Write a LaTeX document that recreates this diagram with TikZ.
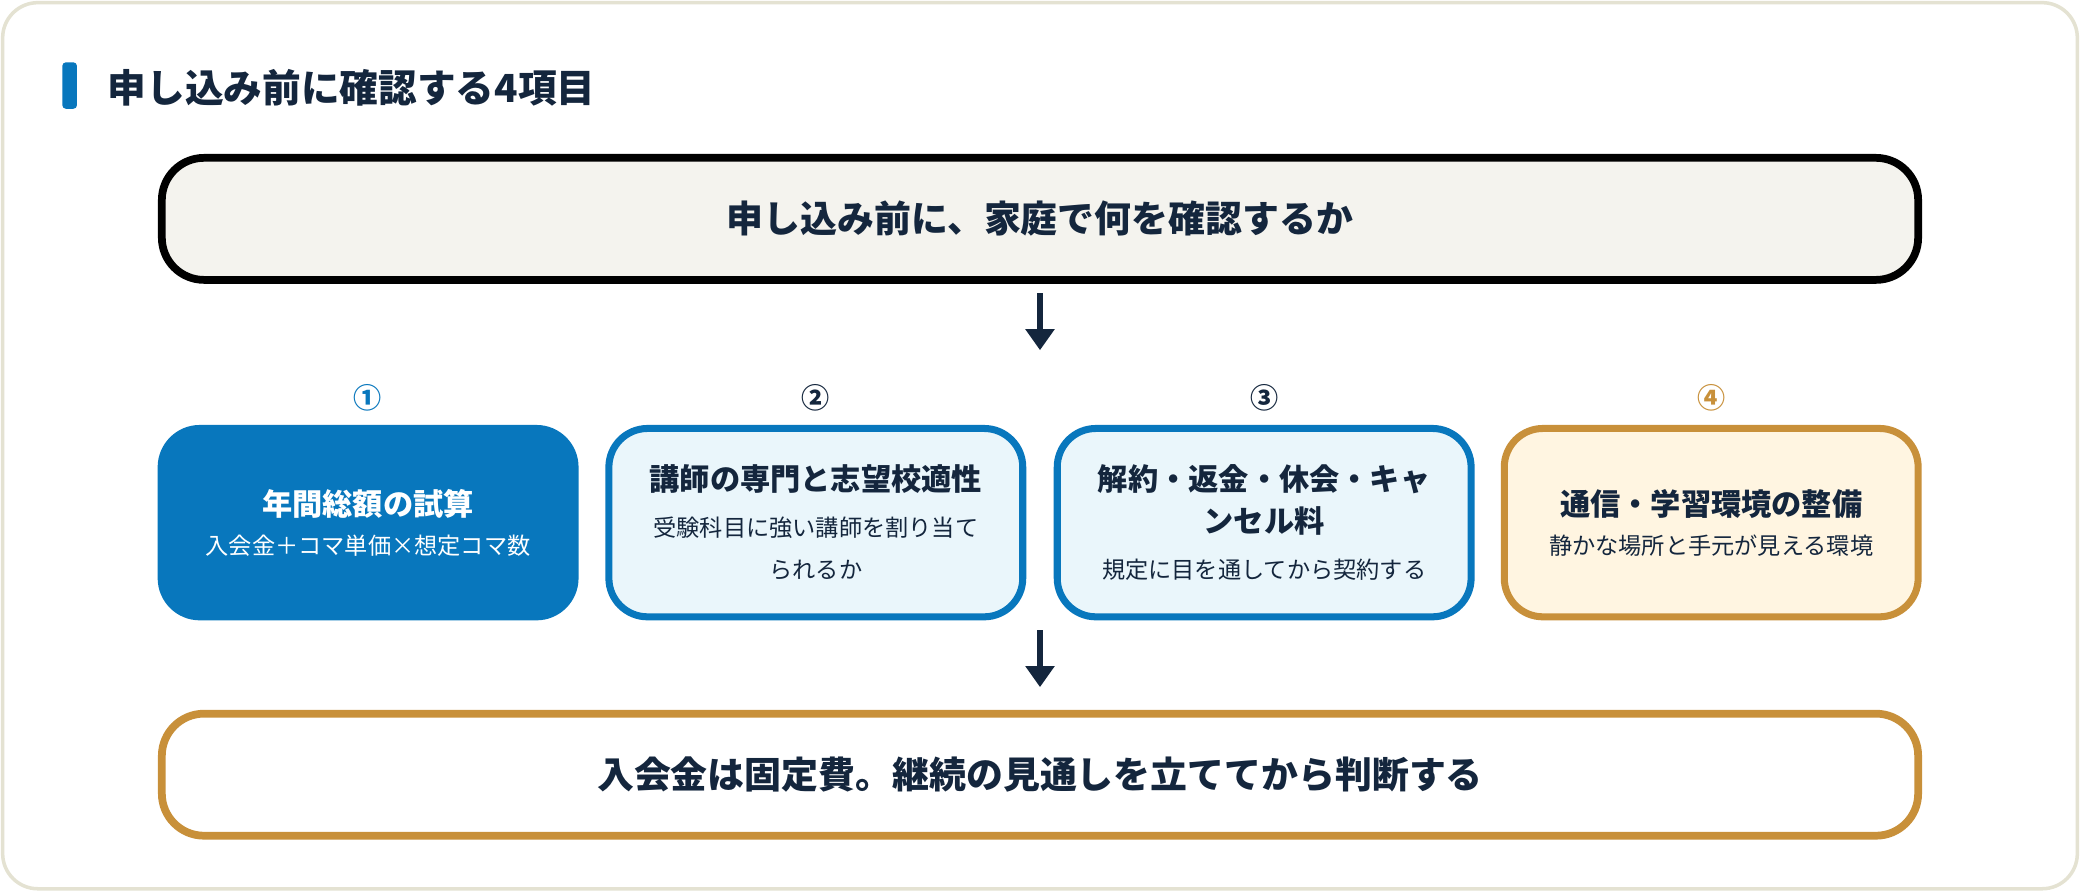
\documentclass[tikz,border=0pt]{standalone}
\usepackage{fontspec}
\setmainfont{Noto Sans CJK JP}
\usepackage{tikz}
\usetikzlibrary{arrows.meta, positioning, calc}
\definecolor{navy}{HTML}{14263D}
\definecolor{cblue}{HTML}{0877BD}
\definecolor{lblue}{HTML}{EAF6FB}
\definecolor{gold}{HTML}{C8903A}
\definecolor{cream}{HTML}{FFF5E1}
\definecolor{paper}{HTML}{F4F3EE}
\definecolor{frame}{HTML}{E4E2D2}
\newcommand{\cardttl}{\fontsize{8.6}{12}\selectfont\bfseries}
\newcommand{\cardsub}{\fontsize{6.6}{10}\selectfont}
\tikzset{%
	wide/.style={draw, line width=2.2pt, rounded corners=12pt, minimum width=1324*0.13265mm,%
		minimum height=92*0.13265mm, text=navy, font=\fontsize{10.5}{13}\selectfont\bfseries},
	card/.style={draw, line width=2pt, rounded corners=11pt, minimum width=312*0.13265mm,%
		minimum height=142*0.13265mm, align=center, text=navy},
	num/.style={font=\fontsize{8}{10}\selectfont\bfseries},
	flow/.style={-{Triangle[length=6pt,width=8pt]}, line width=1.8pt, navy}
}
\begin{document}
\begin{tikzpicture}[x=0.13265mm, y=-0.13265mm]
	\useasboundingbox (0,0) rectangle (1568,672);
	\draw[frame, fill=white, line width=1pt, rounded corners=10pt] (2,2) rectangle (1566,670);
	% heading
	\fill[cblue, rounded corners=1pt] (47,47) rectangle (58,82);
	\node[anchor=west, text=navy, font=\fontsize{11}{13}\selectfont\bfseries] (head) at (72,66) {申し込み前に確認する4項目};

	\node[wide, fill=paper] (top) at (784,165) {申し込み前に、家庭で何を確認するか};

	\node[num, text=cblue] (n1) at (277,300) {①};
	\node[num, text=navy] (n2) at (615,300) {②};
	\node[num, text=navy] (n3) at (953,300) {③};
	\node[num, text=gold] (n4) at (1290,300) {④};

	\node[card, draw=cblue, fill=cblue, text=white] (c1) at (277.5,394)
		{{\cardttl 年間総額の試算}\\[-1pt]{\cardsub 入会金＋コマ単価×想定コマ数}};
	\node[card, draw=cblue, fill=lblue] (c2) at (615,394)
		{{\cardttl 講師の専門と志望校適性}\\[1pt]{\cardsub 受験科目に強い講師を割り当て}\\{\cardsub られるか}};
	\node[card, draw=cblue, fill=lblue] (c3) at (953,394)
		{{\cardttl 解約・返金・休会・キャ}\\{\cardttl ンセル料}\\[1pt]{\cardsub 規定に目を通してから契約する}};
	\node[card, draw=gold, fill=cream] (c4) at (1290,394)
		{{\cardttl 通信・学習環境の整備}\\[-1pt]{\cardsub 静かな場所と手元が見える環境}};

	\node[wide, draw=gold, fill=white] (bottom) at (784,584) {入会金は固定費。継続の見通しを立ててから判断する};

	\coordinate (a1) at (784,221);
	\coordinate (a2) at (784,264);
	\coordinate (b1) at (784,475);
	\coordinate (b2) at (784,518);
	\draw[flow] (a1) -- (a2);
	\draw[flow] (b1) -- (b2);
\end{tikzpicture}
\end{document}
